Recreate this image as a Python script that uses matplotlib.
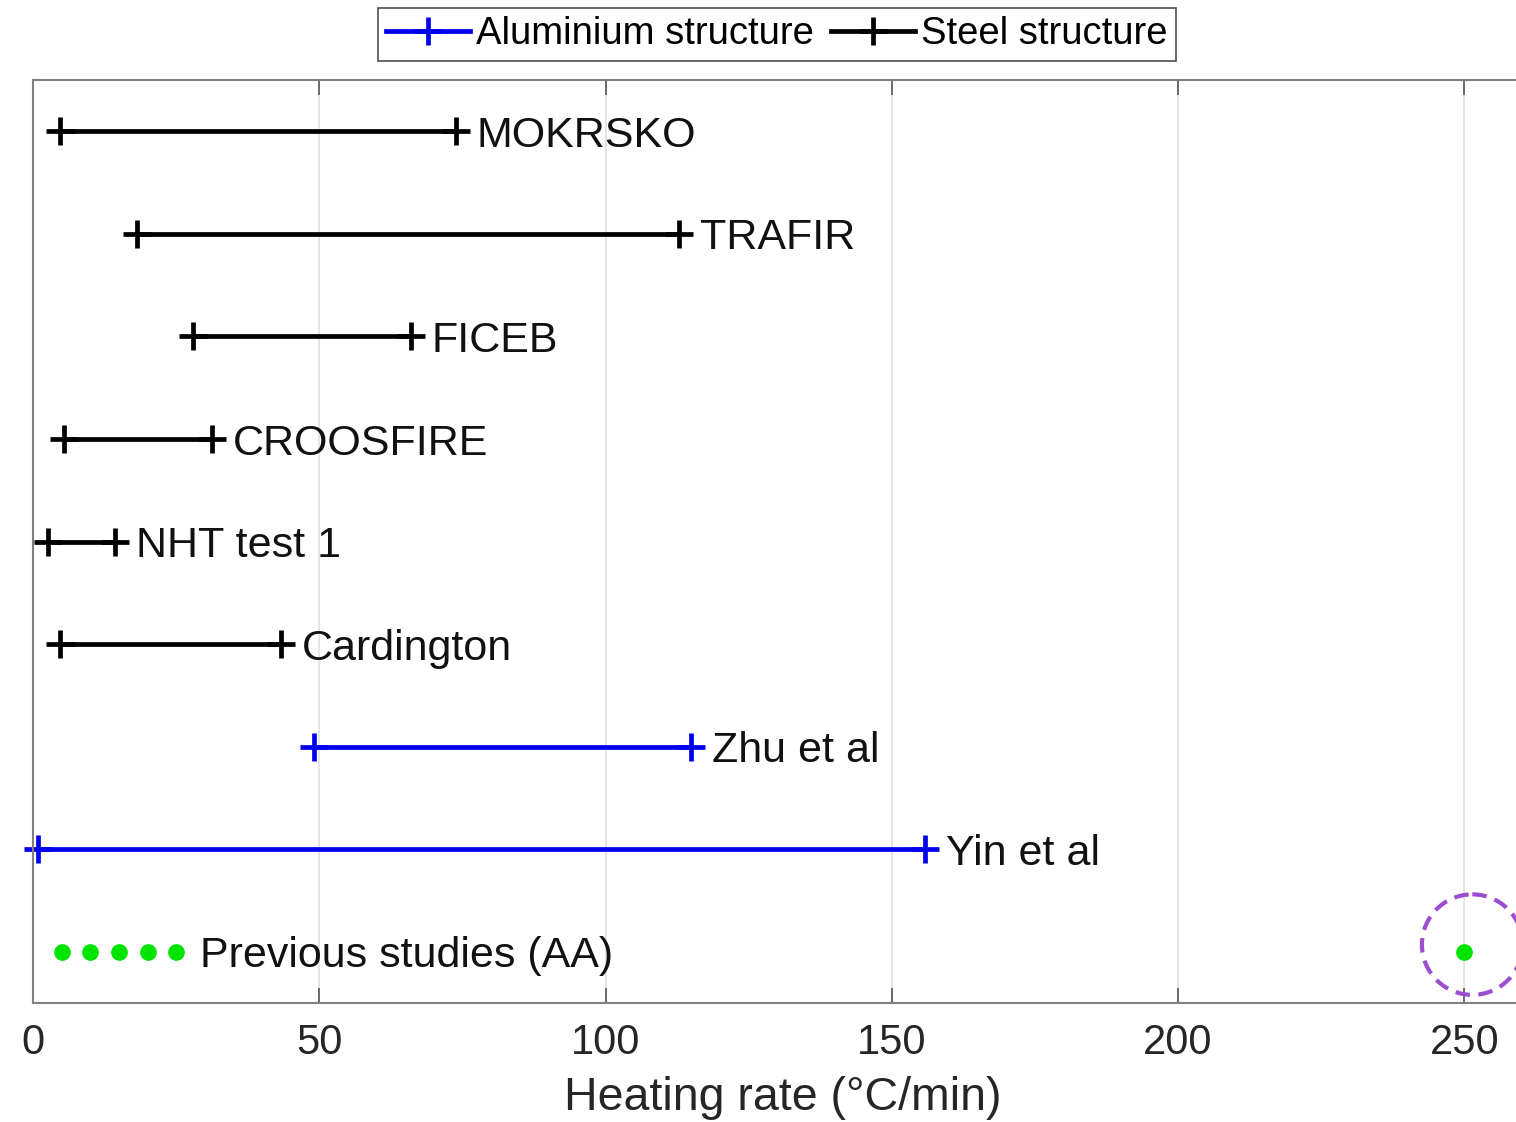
import matplotlib
matplotlib.use("Agg")
import matplotlib.pyplot as plt
from matplotlib.lines import Line2D
from matplotlib.patches import Ellipse

plt.rcParams['font.family'] = ['Liberation Sans', 'DejaVu Sans']

# heating-rate ranges (°C/min) per test campaign, top to bottom
studies = ['MOKRSKO', 'TRAFIR', 'FICEB', 'CROOSFIRE', 'NHT test 1', 'Cardington', 'Zhu et al', 'Yin et al']
rate_min = [4.7, 18.2, 28.0, 5.5, 2.6, 4.7, 49.0, 0.9]
rate_max = [73.9, 112.8, 66.0, 31.3, 14.3, 43.3, 115.0, 155.8]
material = ['steel', 'steel', 'steel', 'steel', 'steel', 'steel', 'aluminium', 'aluminium']

prev_label = 'Previous studies (AA)'
prev_key_dots = [5, 10, 15, 20, 25]
this_rate = 250

colors = {'steel': 'black', 'aluminium': '#0000ee'}
green = '#00e400'

fig = plt.figure(figsize=(15.16, 11.22), dpi=100)
ax = fig.add_axes([33 / 1516, 0.106, 1500 / 1516, 0.8226])

for i, name in enumerate(studies):
    y = i + 1
    c = colors[material[i]]
    ax.plot([rate_min[i], rate_max[i]], [y, y], color=c, lw=3.4, marker='+',
            markersize=20, mew=3.4, clip_on=False, solid_capstyle='butt')
    ax.annotate(name, (rate_max[i], y), xytext=(15, 0), textcoords='offset points',
                va='center_baseline', ha='left', fontsize=31, color='#111111')

row_prev = len(studies) + 1
ax.plot(prev_key_dots, [row_prev] * len(prev_key_dots), 'o', color=green,
        markersize=11, linestyle='none')
ax.annotate(prev_label, (prev_key_dots[-1], row_prev), xytext=(17, 0),
            textcoords='offset points', va='center_baseline', ha='left', fontsize=31,
            color='#111111')

ax.plot([this_rate], [row_prev], 'o', color=green, markersize=11)
ax.add_patch(Ellipse((251.4, row_prev - 0.07), 17.6, 0.98, fill=False,
                     edgecolor='#9b4fd0', lw=3.0, linestyle=(0, (3.5, 2.0)), clip_on=False))

ax.set_xlim(0, 262)
ax.set_ylim(row_prev + 0.5, 0.5)
ax.set_xticks([0, 50, 100, 150, 200, 250])
ax.set_yticks([])
ax.tick_params(axis='x', direction='in', length=11, width=1.2, colors='#555555',
               labelcolor='#262626', labelsize=30, pad=14, top=True)
ax.grid(axis='x', color='#e3e3e3', lw=1.3)
ax.set_axisbelow(True)
for s in ax.spines.values():
    s.set_color('#808080')
    s.set_linewidth(1.5)
ax.set_xlabel('Heating rate (°C/min)', fontsize=33.5, color='#262626', labelpad=10)

handles = [
    Line2D([], [], color=colors['aluminium'], lw=3.4, marker='+', markersize=20, mew=3.4),
    Line2D([], [], color=colors['steel'], lw=3.4, marker='+', markersize=20, mew=3.4),
]
leg = fig.legend(handles, ['Aluminium structure', 'Steel structure'], loc='upper center',
                 bbox_to_anchor=(0.5125, 0.993), ncol=2, fontsize=27.5, frameon=True,
                 fancybox=False, handlelength=2.2, handletextpad=0.15, columnspacing=0.45,
                 borderpad=0.22, borderaxespad=0)
leg.get_frame().set_edgecolor('#222222')
leg.get_frame().set_linewidth(1.2)

fig.savefig('out.png', dpi=100)
